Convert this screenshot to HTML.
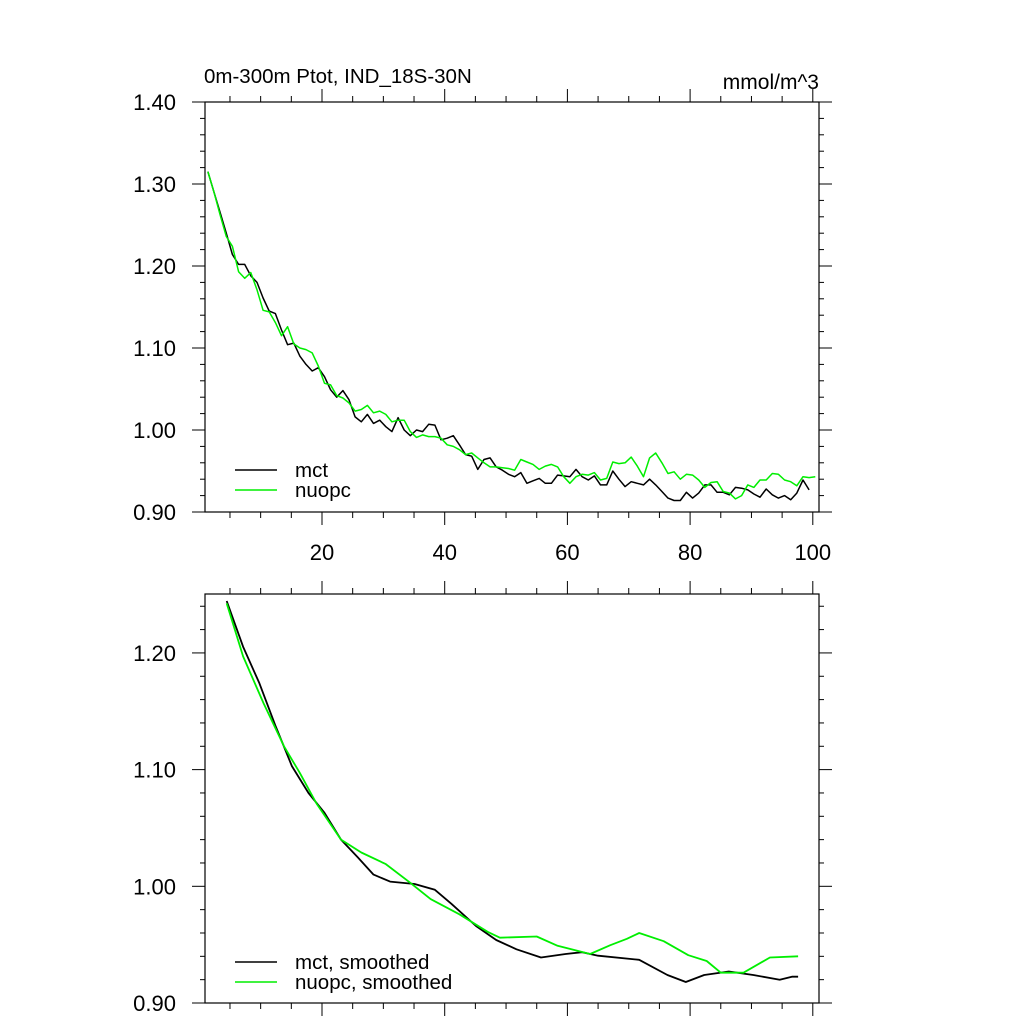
<!DOCTYPE html>
<html><head><meta charset="utf-8"><style>
body{margin:0;background:#fff}
svg text{font-family:"Liberation Sans",sans-serif;fill:#000}
</style></head><body>
<svg id="chart" width="1024" height="1024" viewBox="0 0 1024 1024">
<g id="top"></g>
<g id="bot"></g>
</svg>
<script>
const years = Array.from({length:100},(_,i)=>i+1);
const mctRaw = [1.315,1.290,1.265,1.240,1.214,1.202,1.202,1.188,1.180,1.161,1.145,1.142,1.122,1.104,1.106,1.090,1.080,1.072,1.076,1.065,1.049,1.040,1.048,1.037,1.016,1.010,1.019,1.008,1.012,1.004,0.998,1.015,1.000,0.993,1.000,0.998,1.007,1.006,0.988,0.990,0.993,0.982,0.970,0.968,0.952,0.964,0.966,0.955,0.951,0.946,0.943,0.948,0.935,0.938,0.941,0.935,0.935,0.945,0.944,0.943,0.952,0.943,0.939,0.944,0.933,0.933,0.950,0.940,0.931,0.937,0.935,0.933,0.940,0.933,0.925,0.917,0.914,0.914,0.924,0.917,0.923,0.933,0.933,0.924,0.924,0.921,0.930,0.929,0.927,0.922,0.918,0.928,0.921,0.917,0.920,0.915,0.923,0.939,0.927];
const nuopcRaw = [1.315,1.290,1.262,1.236,1.224,1.193,1.185,1.192,1.171,1.146,1.144,1.131,1.115,1.126,1.105,1.100,1.098,1.094,1.078,1.057,1.055,1.042,1.039,1.033,1.023,1.025,1.030,1.021,1.023,1.019,1.010,1.012,1.012,0.998,0.991,0.994,0.992,0.992,0.990,0.982,0.980,0.976,0.970,0.972,0.966,0.960,0.955,0.955,0.954,0.953,0.951,0.964,0.961,0.958,0.952,0.956,0.958,0.955,0.943,0.935,0.943,0.946,0.945,0.948,0.939,0.941,0.961,0.959,0.960,0.967,0.956,0.943,0.966,0.972,0.960,0.947,0.949,0.940,0.946,0.945,0.939,0.930,0.936,0.937,0.925,0.923,0.916,0.920,0.933,0.930,0.939,0.939,0.947,0.946,0.939,0.937,0.932,0.943,0.942,0.943];
const mctSmoothYears = [4.07,6.74,9.4,12.05,14.7,17.4,20.0,22.7,25.4,28.0,30.7,34.7,38.0,40.7,44.7,48.0,51.3,55.3,59.3,62.0,64.6,71.3,75.9,78.9,81.9,85.9,89.9,94.2,96.2,97.2];
const mctSmooth = [1.2445,1.2053,1.174,1.137,1.103,1.080,1.063,1.040,1.025,1.010,1.004,1.002,0.997,0.985,0.966,0.954,0.946,0.939,0.942,0.9435,0.9405,0.937,0.924,0.918,0.924,0.927,0.924,0.920,0.9225,0.9225];
const nuopcSmoothYears = [4.07,6.74,10.06,13.4,16.0,18.7,22.7,26.0,30.0,34.0,37.3,42.0,46.6,48.6,54.6,58.0,63.3,66.6,69.3,71.3,75.3,79.3,82.3,84.6,88.3,92.6,97.2];
const nuopcSmooth = [1.2425,1.197,1.157,1.120,1.097,1.071,1.040,1.029,1.019,1.003,0.989,0.976,0.961,0.956,0.957,0.949,0.942,0.9495,0.955,0.960,0.953,0.941,0.936,0.926,0.926,0.939,0.940];
const xTickLabels = [20,40,60,80,100];
const topYTicks = [0.90,1.00,1.10,1.20,1.30,1.40];
const botYTicks = [0.90,1.00,1.10,1.20];

const NS="http://www.w3.org/2000/svg";
const X0=205, X1=819;
const xs = v => 199.3 + 6.135*v;
const ptX = yr => xs(yr+0.4);
function mk(parent,tag,attrs,name){const e=document.createElementNS(NS,tag);for(const k in attrs)e.setAttribute(k,attrs[k]);


parent.appendChild(e);return e;}
function panel(g,top,bottom,vmin,vmax,yticks,showX){
  const ys = v => bottom-(v-vmin)/(vmax-vmin)*(bottom-top);
  mk(g,'rect',{x:X0,y:top,width:X1-X0,height:bottom-top,fill:'none',stroke:'#000','stroke-width':1.2},'plot-frame');
  for(let t=5;t<=100;t+=5){const x=xs(t),L=(t%20==0)?13:6;
    mk(g,'line',{x1:x,x2:x,y1:bottom,y2:bottom+L,stroke:'#000'},'x-tick');
    mk(g,'line',{x1:x,x2:x,y1:top,y2:top-L,stroke:'#000'},'x-tick-top');}
  for(let k=0;k<=Math.round((vmax-vmin)/0.02)+0.5;k++){const v=vmin+k*0.02;if(v>vmax+1e-9)break;const y=ys(v);
    const major=Math.abs(Math.round(v*10)-v*10)<1e-6;const L=major?13:5;
    mk(g,'line',{x1:X0,x2:X0-L,y1:y,y2:y,stroke:'#000'},'y-tick');
    mk(g,'line',{x1:X1,x2:X1+L,y1:y,y2:y,stroke:'#000'},'y-tick-right');}
  yticks.forEach(v=>{const t=mk(g,'text',{x:176,y:ys(v)+8,'text-anchor':'end','font-size':22},'y-tick-label');t.textContent=v.toFixed(2);});
  if(showX) xTickLabels.forEach(v=>{const t=mk(g,'text',{x:xs(v),y:560,'text-anchor':'middle','font-size':22},'x-tick-label');t.textContent=v;});
  return ys;
}
const gt=document.getElementById('top'), gb=document.getElementById('bot');
const yt=panel(gt,102,512,0.90,1.40,topYTicks,true);
const yb=panel(gb,594,1003,0.90,1.2505,botYTicks,false);
function line(g,xsArr,vals,ys,color,name,w){
  const pts=vals.map((v,i)=>ptX(xsArr[i]).toFixed(1)+','+ys(v).toFixed(1)).join(' ');
  mk(g,'polyline',{points:pts,fill:'none',stroke:color,'stroke-width':w,'stroke-linejoin':'round'},name);
}
line(gt,years,mctRaw,yt,'#000','mct-line',1.5);
line(gt,years,nuopcRaw,yt,'#00ee00','nuopc-line',1.5);
line(gb,mctSmoothYears,mctSmooth,yb,'#000','mct-smoothed-line',1.8);
line(gb,nuopcSmoothYears,nuopcSmooth,yb,'#00ee00','nuopc-smoothed-line',1.8);
function legend(g,y,label,color,name){
  mk(g,'line',{x1:235,x2:277,y1:y,y2:y,stroke:color,'stroke-width':1.6},name+'-swatch');
  const t=mk(g,'text',{x:295,y:y+7,'font-size':20.5},name+'-label');t.textContent=label;
}
legend(gt,470,'mct','#000','legend-mct');
legend(gt,490,'nuopc','#00ee00','legend-nuopc');
legend(gb,962,'mct, smoothed','#000','legend-mct-smoothed');
legend(gb,982,'nuopc, smoothed','#00ee00','legend-nuopc-smoothed');
const tt=mk(gt,'text',{x:204,y:83,'font-size':20.5},'chart-title');tt.textContent='0m-300m Ptot, IND_18S-30N';
const tu=mk(gt,'text',{x:819,y:89,'font-size':21,'text-anchor':'end'},'units-label');tu.textContent='mmol/m^3';
</script>
</body></html>
